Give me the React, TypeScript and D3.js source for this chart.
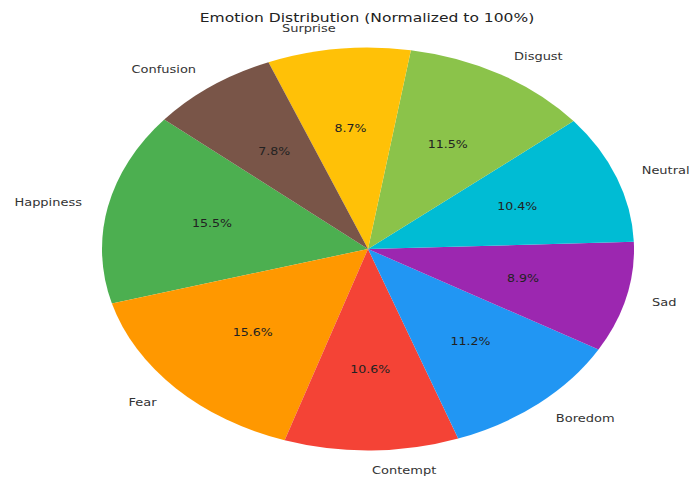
import React from "react";
import * as d3 from "d3";

const categories = ["Happiness", "Fear", "Contempt", "Boredom", "Sad", "Neutral", "Disgust", "Surprise", "Confusion"];
const values = [15.5, 15.6, 10.6, 11.2, 8.9, 10.4, 11.5, 8.7, 7.8];
const colors = ["#4CAF50", "#FF9800", "#F44336", "#2196F3", "#9C27B0", "#00BCD4", "#8BC34A", "#FFC107", "#795548"];
const title = "Emotion Distribution (Normalized to 100%)";

const W = 689;
const H = 477;
const cx = 368;
const cy = 249;
const rx = 266;
const ry = 201.5;
const startDeg = 140;
const font = "'DejaVu Sans', sans-serif";

export default function App() {
  const total = d3.sum(values);
  const pie = d3.pie<number>().sort(null).startAngle(0).endAngle(2 * Math.PI);
  const arcsData = pie(values);
  const R = 100;
  const arc = d3.arc<any>().innerRadius(0).outerRadius(R);
  const start = (startDeg * Math.PI) / 180;
  const fmt = d3.format(".1f");

  return (
    <svg width={W} height={H} style={{ position: "absolute", left: 0, top: 0, background: "#fff" }}>
      <g transform={`translate(367,18) scale(1.35,1)`}>
        <text x={0} y={0} textAnchor="middle" dominantBaseline="central" fontFamily={font} fontSize={11.5} fill="#222">
          {title}
        </text>
      </g>
      <g transform={`translate(${cx},${cy}) scale(${rx / R},${ry / R})`}>
        {arcsData.map((d, i) => {
          const t1 = start + d.startAngle;
          const t2 = start + d.endAngle;
          const path = arc({ startAngle: Math.PI / 2 - t2, endAngle: Math.PI / 2 - t1 });
          return <path key={i} d={path || ""} fill={colors[i]} />;
        })}
      </g>
      {arcsData.map((d, i) => {
        const tm = start + (d.startAngle + d.endAngle) / 2;
        const c = Math.cos(tm);
        const s = Math.sin(tm);
        const lx = cx + 1.1 * rx * c;
        const ly = cy - 1.1 * ry * s;
        const px = cx + 0.6 * rx * c;
        const py = cy - 0.6 * ry * s;
        return (
          <g key={i}>
            <g transform={`translate(${lx},${ly}) scale(1.3,1)`}>
              <text x={0} y={0} textAnchor={c >= 0 ? "start" : "end"} dominantBaseline="central" fontFamily={font} fontSize={10} fill="#333">
                {categories[i]}
              </text>
            </g>
            <g transform={`translate(${px},${py}) scale(1.26,1)`}>
              <text x={0} y={0} textAnchor="middle" dominantBaseline="central" fontFamily={font} fontSize={10} fill="#222">
                {fmt((values[i] / total) * 100) + "%"}
              </text>
            </g>
          </g>
        );
      })}
    </svg>
  );
}
